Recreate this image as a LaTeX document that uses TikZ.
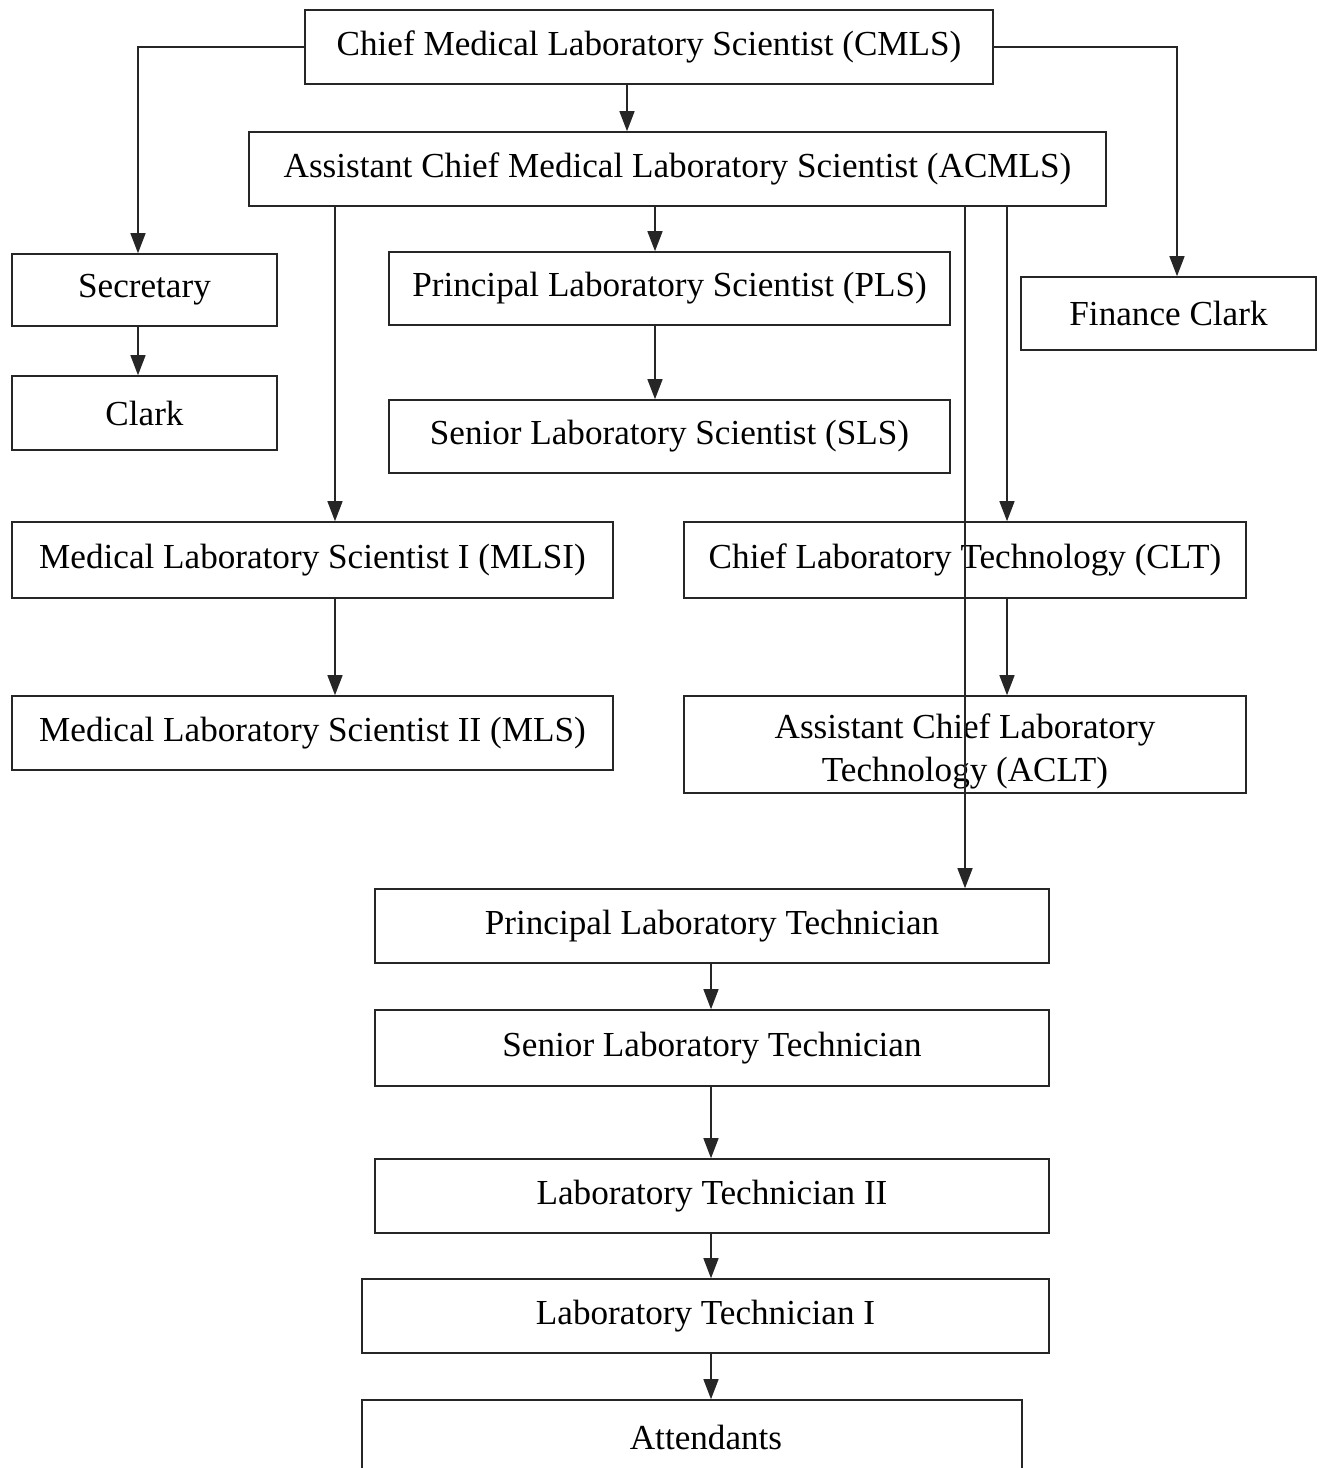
\documentclass[tikz,border=0pt]{standalone}
\usepackage{fontspec}
\setmainfont{Liberation Serif}
\usepackage{tikz}
\usetikzlibrary{arrows.meta,positioning}

\begin{document}
\begin{tikzpicture}[
    post/.style={rectangle, draw=black!85, line width=0.9pt, inner sep=0pt, align=center, font=\fontsize{20}{24.5}\selectfont, minimum height=1.48cm},
    arrow/.style={-{Triangle[length=0.4cm,width=0.3cm]}, line width=0.8pt, draw=black!85}
]
\useasboundingbox (0,0) rectangle (26.4,-29.36);

% Top of the hierarchy
\node[post, minimum width=13.76cm] (cmls) at (12.98,-0.94) {Chief Medical Laboratory Scientist (CMLS)};
\node[post, minimum width=17.14cm] (acmls) at (13.55,-3.38) {Assistant Chief Medical Laboratory Scientist (ACMLS)};

% Office staff
\node[post, minimum width=5.30cm, minimum height=1.44cm] (secretary) at (2.89,-5.80) {Secretary};
\node[post, minimum width=5.30cm] (clark) at (2.89,-8.26) {Clark};
\node[post, minimum width=5.90cm, minimum height=1.46cm] (finance) at (23.37,-6.27) {Finance Clark};

% Scientists
\node[post, minimum width=11.22cm, minimum height=1.46cm] (pls) at (13.39,-5.77) {Principal Laboratory Scientist (PLS)};
\node[post, minimum width=11.22cm, minimum height=1.46cm] (sls) at (13.39,-8.73) {Senior Laboratory Scientist (SLS)};
\node[post, minimum width=12.02cm, minimum height=1.52cm] (mlsi) at (6.25,-11.20) {Medical Laboratory Scientist I (MLSI)};
\node[post, minimum width=12.02cm] (mlsii) at (6.25,-14.66) {Medical Laboratory Scientist II (MLS)};

% Technology
\node[post, minimum width=11.24cm, minimum height=1.52cm] (clt) at (19.30,-11.20) {Chief Laboratory Technology (CLT)};
\node[post, minimum width=11.24cm, minimum height=1.94cm] (aclt) at (19.30,-14.89)
    {\raisebox{-0.32cm}[0pt][0pt]{\parbox{11cm}{\centering Assistant Chief Laboratory\\Technology (ACLT)}}};

% Technicians
\node[post, minimum width=13.48cm] (plt) at (14.24,-18.52) {Principal Laboratory Technician};
\node[post, minimum width=13.48cm, minimum height=1.52cm] (slt) at (14.24,-20.96) {Senior Laboratory Technician};
\node[post, minimum width=13.48cm] (ltii) at (14.24,-23.92) {Laboratory Technician II};
\node[post, minimum width=13.74cm] (lti) at (14.11,-26.32) {Laboratory Technician I};
\node[post, minimum width=13.20cm] (attendants) at (13.84,-28.74) {\hspace*{0.56cm}Attendants};

% Columns of the connectors
\coordinate (xsec) at (2.76,0);
\coordinate (xfin) at (23.54,0);
\coordinate (xac) at (12.54,0);
\coordinate (xpls) at (13.10,0);
\coordinate (xmls) at (6.70,0);
\coordinate (xclt) at (20.14,0);
\coordinate (xplt) at (19.30,0);
\coordinate (xtech) at (14.22,0);

% Connections
\draw[arrow] (cmls.west) -| (secretary.north -| xsec);
\draw[arrow] (cmls.east) -| (finance.north -| xfin);
\draw[arrow] (cmls.south -| xac) -- (acmls.north -| xac);

\draw[arrow] (acmls.south -| xpls) -- (pls.north -| xpls);
\draw[arrow] (pls.south -| xpls) -- (sls.north -| xpls);
\draw[arrow] (acmls.south -| xmls) -- (mlsi.north -| xmls);
\draw[arrow] (mlsi.south -| xmls) -- (mlsii.north -| xmls);
\draw[arrow] (acmls.south -| xclt) -- (clt.north -| xclt);
\draw[arrow] (clt.south -| xclt) -- (aclt.north -| xclt);
\draw[arrow] (acmls.south -| xplt) -- (plt.north -| xplt);

\draw[arrow] (secretary.south -| xsec) -- (clark.north -| xsec);

\draw[arrow] (plt.south -| xtech) -- (slt.north -| xtech);
\draw[arrow] (slt.south -| xtech) -- (ltii.north -| xtech);
\draw[arrow] (ltii.south -| xtech) -- (lti.north -| xtech);
\draw[arrow] (lti.south -| xtech) -- (attendants.north -| xtech);

\end{tikzpicture}
\end{document}
